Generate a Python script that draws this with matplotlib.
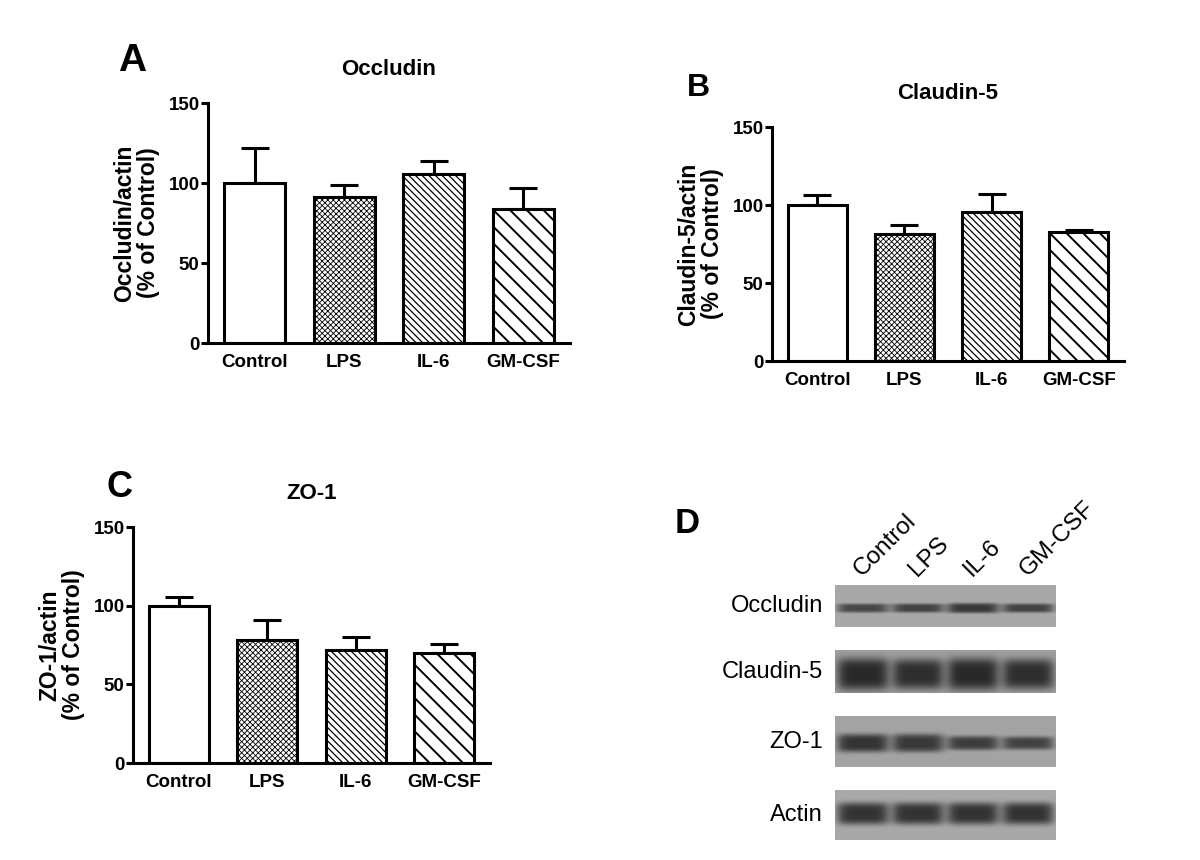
import matplotlib
matplotlib.use("Agg")
import matplotlib.pyplot as plt
import numpy as np

plt.rcParams['font.family'] = ['Liberation Sans', 'DejaVu Sans']
plt.rcParams['font.weight'] = 'bold'
plt.rcParams['hatch.linewidth'] = 1.0

# Densitometry values (% of control, mean and upper SEM)
groups = ["Control", "LPS", "IL-6", "GM-CSF"]

occludin_mean = [100, 91, 105.5, 83.5]
occludin_err = [22, 7.5, 8, 13.5]

claudin_mean = [100, 81.5, 95.7, 82.7]
claudin_err = [6.3, 6, 11.3, 1.2]

zo1_mean = [100, 78.4, 71.6, 69.7]
zo1_err = [5.5, 12.2, 8.8, 6]

# Western blot panel: band strength per lane for each antibody
blot_rows = ["Occludin", "Claudin-5", "ZO-1", "Actin"]
blot_bg = [0.66, 0.62, 0.64, 0.66]
band_dark = [[0.38, 0.40, 0.44, 0.40],
             [0.46, 0.44, 0.46, 0.44],
             [0.44, 0.42, 0.40, 0.38],
             [0.46, 0.46, 0.46, 0.46]]
band_sigma = [[4.5, 4.5, 5.0, 4.5],
              [16, 15, 16, 15],
              [9, 9, 7, 6.5],
              [11, 11, 11, 11]]
band_pos = [0.55, 0.56, 0.53, 0.47]

hatches = ["", "xxxxxx", "\\\\\\\\\\", "\\\\"]
hatch_lw = [1.0, 0.6, 0.9, 1.4]


def bar_panel(ax, means, errs, title, ylabel):
    x = np.arange(len(groups))
    bars = ax.bar(x, means, width=0.68, color="white", edgecolor="black",
                  linewidth=2.2, zorder=2)
    for b, h, lw in zip(bars, hatches, hatch_lw):
        b.set_hatch(h)
        try:
            b.set_hatch_linewidth(lw)
        except AttributeError:
            pass
    ax.errorbar(x, means, yerr=[np.zeros(len(errs)), errs], fmt="none",
                ecolor="black", elinewidth=2.2, capsize=10, capthick=2.2,
                zorder=1)
    ax.set_xlim(-0.52, 3.52)
    ax.set_ylim(0, 150)
    ax.set_yticks([0, 50, 100, 150])
    ax.set_xticks(x)
    ax.set_xticklabels(groups)
    for s in ["top", "right"]:
        ax.spines[s].set_visible(False)
    for s in ["left", "bottom"]:
        ax.spines[s].set_linewidth(2.2)
    ax.tick_params(axis="x", length=0, pad=8, labelsize=13.5)
    ax.tick_params(axis="y", length=5, width=2.2, pad=1, labelsize=13.5)
    ax.set_title(title, fontsize=16, fontweight="bold", pad=20)
    ax.set_ylabel(ylabel, fontsize=16.5, fontweight="bold", labelpad=6,
                  linespacing=1.05)


fig = plt.figure(figsize=(12, 8.6), dpi=100)

ax_a = fig.add_axes([208 / 1200, 1 - 343 / 860, 362 / 1200, 240 / 860])
bar_panel(ax_a, occludin_mean, occludin_err, "Occludin",
          "Occludin/actin\n(% of Control)")

ax_b = fig.add_axes([772 / 1200, 1 - 361 / 860, 352 / 1200, 234 / 860])
bar_panel(ax_b, claudin_mean, claudin_err, "Claudin-5",
          "Claudin-5/actin\n(% of Control)")

ax_c = fig.add_axes([133 / 1200, 1 - 763 / 860, 357 / 1200, 236 / 860])
bar_panel(ax_c, zo1_mean, zo1_err, "ZO-1",
          "ZO-1/actin\n(% of Control)")

# Panel D - blot strips
ax_d = fig.add_axes([835 / 1200, 1 - 840 / 860, 221 / 1200, 255 / 860])
ax_d.axis("off")

strip_top = [0, 65, 131, 205]
strip_h = [42, 43, 51, 50]
xs = np.linspace(-0.5, 3.5, 221)
for r, name in enumerate(blot_rows):
    ys = np.arange(strip_h[r]) + 0.5
    yc = band_pos[r] * strip_h[r]
    img = np.full((strip_h[r], len(xs)), blot_bg[r])
    for lane in range(len(groups)):
        gx = np.exp(-((xs - lane) / 0.47) ** 6)
        gy = np.exp(-((ys - yc) / band_sigma[r][lane]) ** 4)
        img -= band_dark[r][lane] * np.outer(gy, gx)
    img = np.clip(img, 0, 1)
    ax_d.imshow(img, cmap="gray", vmin=0, vmax=1, aspect="auto",
                interpolation="bilinear",
                extent=(-0.5, 3.5, strip_top[r] + strip_h[r], strip_top[r]))
    ax_d.text(-0.72, strip_top[r] + strip_h[r] / 2, name, ha="right",
              va="center", fontsize=17, fontweight="normal")

for i, g in enumerate(groups):
    ax_d.text(i - 0.02, -8, g, rotation=45, rotation_mode="anchor",
              ha="left", va="baseline", fontsize=17.5, fontweight="normal")
ax_d.set_xlim(-0.5, 3.5)
ax_d.set_ylim(255, 0)

# panel letters
fig.text(118 / 1200, 1 - 71 / 860, "A", fontsize=28, fontweight="bold")
fig.text(687 / 1200, 1 - 96 / 860, "B", fontsize=23, fontweight="bold")
fig.text(107 / 1200, 1 - 497 / 860, "C", fontsize=26, fontweight="bold")
fig.text(675 / 1200, 1 - 533 / 860, "D", fontsize=25, fontweight="bold")

fig.savefig("out.png", dpi=100)
